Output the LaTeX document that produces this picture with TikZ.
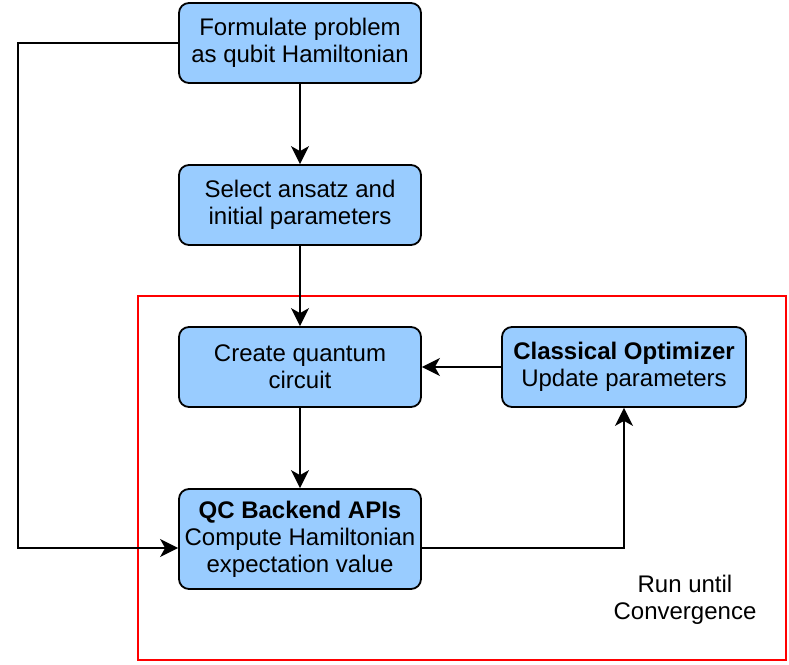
\documentclass[tikz,border=0pt]{standalone}
\usepackage{fontspec}
\setmainfont{Liberation Sans}
\usetikzlibrary{arrows.meta}

\tikzset{
  stage/.style={draw, line width=0.9pt, rounded corners=5pt, fill=boxblue,
    minimum width=121pt, minimum height=40pt, align=center, inner sep=2pt,
    font=\fontsize{12}{13.6}\selectfont},
  arr/.style={line width=0.8pt, -{Stealth[length=9pt,width=9pt,inset=2.5pt]}}
}
\definecolor{boxblue}{HTML}{99CCFF}

\begin{document}
\begin{tikzpicture}[x=0.5pt, y=-0.5pt]
  \useasboundingbox (0,0) rectangle (789,665);

  % loop region
  \draw[red, line width=0.9pt] (138,296) rectangle (786,660);
  \node[align=center, font=\fontsize{12}{13.6}\selectfont] (conv) at (685,600) {Run until\\Convergence};

  % stages
  \node[stage] (formulate) at (300,43) {Formulate problem\\as qubit Hamiltonian};
  \node[stage] (ansatz) at (300,205) {Select ansatz and\\initial parameters};
  \node[stage] (circuit) at (300,367) {Create quantum\\circuit};
  \node[stage, minimum width=122pt] (optim) at (624,367) {\textbf{Classical Optimizer}\\Update parameters};
  \node[stage, minimum height=50pt] (backend) at (300,539) {\textbf{QC Backend APIs}\\Compute Hamiltonian\\expectation value};

  % arrows
  \draw[arr] (formulate) -- (ansatz);
  \draw[arr] (ansatz) -- (circuit);
  \draw[arr] (circuit) -- (backend);
  \draw[arr] (optim) -- (circuit);
  \draw[arr] ([yshift=-4.5pt]backend.east) -| (optim.south);
  \draw[arr] (formulate.west) -- (18,43) |- ([yshift=-4.5pt]backend.west);
\end{tikzpicture}
\end{document}
